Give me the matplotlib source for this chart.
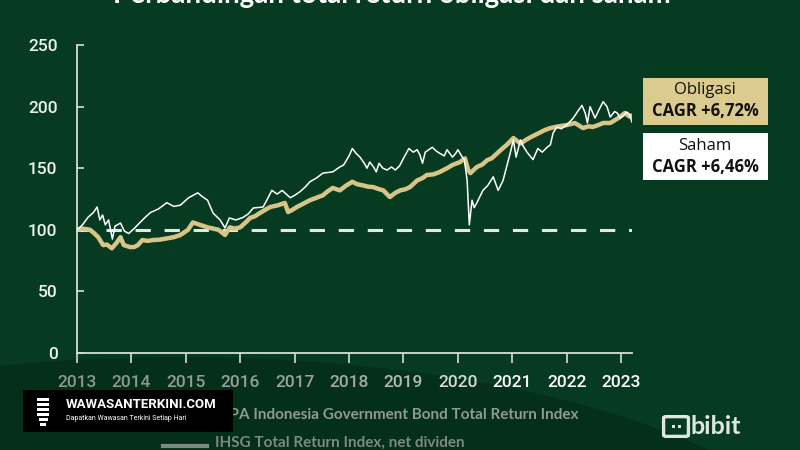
import matplotlib
matplotlib.use('Agg')
import matplotlib.pyplot as plt
from matplotlib.patches import Rectangle, Ellipse, FancyBboxPatch

# IBPA bond total return index (gold line), decimal year / value
bond_t = [2013.0, 2013.1, 2013.24, 2013.32, 2013.39, 2013.48, 2013.55, 2013.64, 2013.72, 2013.8,
          2013.86, 2013.97, 2014.05, 2014.12, 2014.2, 2014.3, 2014.4, 2014.52, 2014.65, 2014.78,
          2014.9, 2015.04, 2015.13, 2015.26, 2015.4, 2015.5, 2015.6, 2015.72, 2015.81, 2015.9,
          2016.0, 2016.1, 2016.18, 2016.27, 2016.36, 2016.45, 2016.55, 2016.7, 2016.82, 2016.88,
          2016.95, 2017.04, 2017.15, 2017.28, 2017.4, 2017.52, 2017.6, 2017.7, 2017.83, 2017.95,
          2018.06, 2018.15, 2018.26, 2018.35, 2018.44, 2018.55, 2018.63, 2018.75, 2018.85, 2018.94,
          2019.04, 2019.12, 2019.25, 2019.35, 2019.43, 2019.55, 2019.67, 2019.8, 2019.9, 2020.04,
          2020.13, 2020.19, 2020.23, 2020.3, 2020.35, 2020.45, 2020.54, 2020.62, 2020.72, 2020.82,
          2020.9, 2021.02, 2021.15, 2021.25, 2021.33, 2021.42, 2021.51, 2021.6, 2021.7, 2021.85,
          2022.0, 2022.15, 2022.3, 2022.4, 2022.48, 2022.58, 2022.67, 2022.8, 2022.95, 2023.07,
          2023.15, 2023.22]
bond_v = [100, 101, 100, 97, 94, 87.6, 88, 85, 89, 94,
          87.6, 86, 86, 87.6, 91.7, 91, 91.7, 92, 93, 94,
          95.8, 100, 106, 104, 102, 101, 100, 95.8, 102, 101,
          102, 106, 109.6, 111, 113.6, 116, 118.5, 120, 121.8, 114.4,
          116, 118.5, 121, 124, 126, 128, 131, 134, 132, 136,
          139, 137, 136, 135, 134.7, 133, 132, 126.6, 130, 132,
          133, 134.7, 140, 142, 144.5, 145, 147, 150, 152.6, 155,
          158, 148.5, 146, 149, 151, 153, 156.6, 158, 162, 166,
          169, 174.5, 170, 173, 175, 177, 179, 181, 182.6, 184,
          185, 186.7, 182.6, 184, 183.5, 185, 186.7, 186.7, 190.7, 194.8,
          192, 193]

# IHSG total return index (white line)
ihsg_t = [2013.0, 2013.1, 2013.2, 2013.3, 2013.37, 2013.42, 2013.47, 2013.52, 2013.58, 2013.65,
          2013.7, 2013.8, 2013.87, 2013.95, 2014.05, 2014.16, 2014.25, 2014.35, 2014.5, 2014.65,
          2014.78, 2014.9, 2015.05, 2015.22, 2015.3, 2015.4, 2015.5, 2015.63, 2015.72, 2015.8,
          2015.92, 2016.05, 2016.15, 2016.24, 2016.42, 2016.5, 2016.58, 2016.68, 2016.77, 2016.92,
          2017.0, 2017.1, 2017.2, 2017.28, 2017.4, 2017.52, 2017.7, 2017.83, 2017.9, 2018.0,
          2018.06, 2018.13, 2018.2, 2018.28, 2018.33, 2018.38, 2018.45, 2018.5, 2018.55, 2018.62,
          2018.7, 2018.78, 2018.85, 2018.93, 2019.0, 2019.1, 2019.18, 2019.25, 2019.3, 2019.35,
          2019.4, 2019.53, 2019.6, 2019.67, 2019.75, 2019.8, 2019.9, 2019.96, 2020.0, 2020.08,
          2020.12, 2020.17, 2020.21, 2020.26, 2020.3, 2020.35, 2020.46, 2020.55, 2020.65, 2020.74,
          2020.83, 2020.96, 2021.02, 2021.07, 2021.15, 2021.2, 2021.27, 2021.38, 2021.47, 2021.55,
          2021.64, 2021.7, 2021.75, 2021.82, 2021.9, 2022.0, 2022.12, 2022.2, 2022.28, 2022.34,
          2022.38, 2022.43, 2022.52, 2022.6, 2022.67, 2022.74, 2022.8, 2022.88, 2022.93, 2022.98,
          2023.05, 2023.1, 2023.15, 2023.2]
ihsg_v = [100, 104, 110, 114, 118.5, 108, 112, 104, 108, 92.5,
          103, 105.5, 99, 97, 101, 106, 110, 114, 117, 122,
          119, 120, 126, 130, 127, 124, 113.6, 108, 101.5, 109.6,
          108, 110, 113, 117.7, 118.5, 125, 132, 129, 132, 126,
          128, 131, 135, 139, 142, 146, 147, 151, 152.6, 160,
          166, 162, 159, 154, 150, 155, 151, 147, 154, 150,
          148.5, 151, 148.5, 152, 158, 166, 163, 165, 161, 154,
          163, 167, 164, 162, 160, 165, 159, 162, 165, 159,
          157, 140, 104, 124, 118, 122, 132, 136, 143, 132,
          140, 162, 173, 159, 173, 168, 163, 157, 166, 163,
          167, 169, 178.6, 183.5, 182, 185, 190.7, 196, 201, 194.8,
          186.7, 200, 190.7, 198, 204, 200, 191.5, 196, 194.8, 190.7,
          193, 195.6, 194, 187.5]

years = list(range(2013, 2024))
y_ticks = [0, 50, 100, 150, 200, 250]
year_colors = ['#8e9690', '#8e9690', '#939b95', '#979f99', '#9ca39e', '#a3aaa5',
               '#b3b9b4', '#d5d9d6', '#ffffff', '#ffffff', '#ffffff']

BG = '#063b21'
GOLD = '#d8c486'

fig = plt.figure(figsize=(8, 4.5), dpi=100, facecolor=BG)

# darker curved band along the bottom, behind everything
fig.patches.append(Ellipse((180 / 800, -130 / 450), 1300 / 800, 446 / 450,
                           transform=fig.transFigure, facecolor='#042f19', edgecolor='none',
                           zorder=-10))
fig.patches.append(Ellipse((900 / 800, -40 / 450), 560 / 800, 200 / 450,
                           transform=fig.transFigure, facecolor='#08432500', edgecolor='none',
                           zorder=-9))

ax = fig.add_axes([77 / 800, 1 - 353 / 450, (632 - 77) / 800, (353 - 45) / 450])
ax.set_facecolor('none')

ax.axhline(100, color='#e3e8e3', lw=2.2, dashes=(5, 4.5), zorder=1)
ax.plot(bond_t, bond_v, color=GOLD, lw=3.2, solid_joinstyle='round', zorder=2)
ax.plot(ihsg_t, ihsg_v, color='white', lw=1.1, zorder=3)

ax.set_xlim(2013, 2023.2)
ax.set_ylim(0, 250)
ax.set_xticks(years)
ax.set_xticklabels([str(y) for y in years])
ax.set_yticks(y_ticks)
for lbl, c in zip(ax.get_xticklabels(), year_colors):
    lbl.set_color(c)

for s in ['top', 'right']:
    ax.spines[s].set_visible(False)
for s in ['left', 'bottom']:
    ax.spines[s].set_color('#d7ddd8')
    ax.spines[s].set_linewidth(1.3)

ax.tick_params(axis='x', direction='out', length=7, width=1.2, color='#d7ddd8',
               labelsize=12.5, pad=9)
ax.tick_params(axis='y', direction='in', length=5, width=1.2, color='#d7ddd8',
               labelsize=12.5, labelcolor='#eef2ee', pad=14)
for lbl in ax.get_xticklabels() + ax.get_yticklabels():
    lbl.set_fontfamily('Roboto')
    lbl.set_fontweight('medium')

# title, mostly cut off by the top edge
fig.text(392 / 800, 1 - 3 / 450, 'Perbandingan total return obligasi dan saham',
         ha='center', va='baseline', color='white', fontsize=20, fontweight='bold',
         family='Lato')

# CAGR boxes
fig.patches.append(Rectangle((643 / 800, 1 - 125 / 450), 125 / 800, 47 / 450,
                             transform=fig.transFigure, facecolor='#dccb8e', edgecolor='none'))
fig.patches.append(Rectangle((643 / 800, 1 - 180 / 450), 125 / 800, 47 / 450,
                             transform=fig.transFigure, facecolor='white', edgecolor='none'))
fig.text(705 / 800, 1 - 90 / 450, 'Obligasi', ha='center', va='center', fontsize=12,
         color='#111111', family='Open Sans')
fig.text(705 / 800, 1 - 111 / 450, 'CAGR +6,72%', ha='center', va='center', fontsize=12,
         color='#111111', fontweight='bold', family='Open Sans')
fig.text(705 / 800, 1 - 146 / 450, 'Saham', ha='center', va='center', fontsize=12,
         color='#111111', family='Open Sans')
fig.text(705 / 800, 1 - 167 / 450, 'CAGR +6,46%', ha='center', va='center', fontsize=12,
         color='#111111', fontweight='bold', family='Open Sans')

# legend at the bottom
fig.lines.append(plt.Line2D([163 / 800, 207 / 800], [1 - 415 / 450, 1 - 415 / 450],
                            transform=fig.transFigure, color='#8a948d', lw=3))
fig.text(215 / 800, 1 - 415 / 450, 'IBPA Indonesia Government Bond Total Return Index',
         ha='left', va='center', fontsize=11, color='#8f9a93', family='Lato',
         fontweight='bold')
fig.lines.append(plt.Line2D([163 / 800, 207 / 800], [1 - 446 / 450, 1 - 446 / 450],
                            transform=fig.transFigure, color='#7e8982', lw=3))
fig.text(215 / 800, 1 - 443 / 450, 'IHSG Total Return Index, net dividen',
         ha='left', va='center', fontsize=11, color='#7e8982', family='Lato',
         fontweight='bold')

# watermark
fig.patches.append(Rectangle((23 / 800, 1 - 432 / 450), 210 / 800, 42 / 450,
                             transform=fig.transFigure, facecolor='black', edgecolor='none', zorder=5))
for w, yy in [(12, 398), (12, 403), (12, 408), (12, 413), (9, 418), (6, 423)]:
    fig.patches.append(Rectangle(((43 - w / 2) / 800, 1 - (yy + 3) / 450), w / 800, 3 / 450,
                                 transform=fig.transFigure, facecolor='white', edgecolor='none',
                                 zorder=6))
fig.text(66 / 800, 1 - 405 / 450, 'WAWASANTERKINI.COM', ha='left', va='center', fontsize=9.5,
         color='white', fontweight='bold', family='Roboto', zorder=6)
fig.text(66 / 800, 1 - 418 / 450, 'Dapatkan Wawasan Terkini Setiap Hari', ha='left', va='center',
         fontsize=5, color='white', family='Roboto', zorder=6)

# bibit logo
fig.patches.append(FancyBboxPatch((666 / 800, 1 - 435 / 450), 20 / 800, 17 / 450,
                                  boxstyle='round,pad=0.003', transform=fig.transFigure,
                                  facecolor='none', edgecolor='#dfe5e0', lw=2.4))
fig.patches.append(Rectangle((672 / 800, 1 - 428 / 450), 2.5 / 800, 3 / 450,
                             transform=fig.transFigure, facecolor='#dfe5e0', edgecolor='none'))
fig.patches.append(Rectangle((678 / 800, 1 - 428 / 450), 2.5 / 800, 3 / 450,
                             transform=fig.transFigure, facecolor='#dfe5e0', edgecolor='none'))
fig.text(691 / 800, 1 - 426 / 450, 'bibit', ha='left', va='center', fontsize=18,
         color='#dfe5e0', fontweight='bold', family='Lato')

fig.savefig('out.png', dpi=100, facecolor=BG)
